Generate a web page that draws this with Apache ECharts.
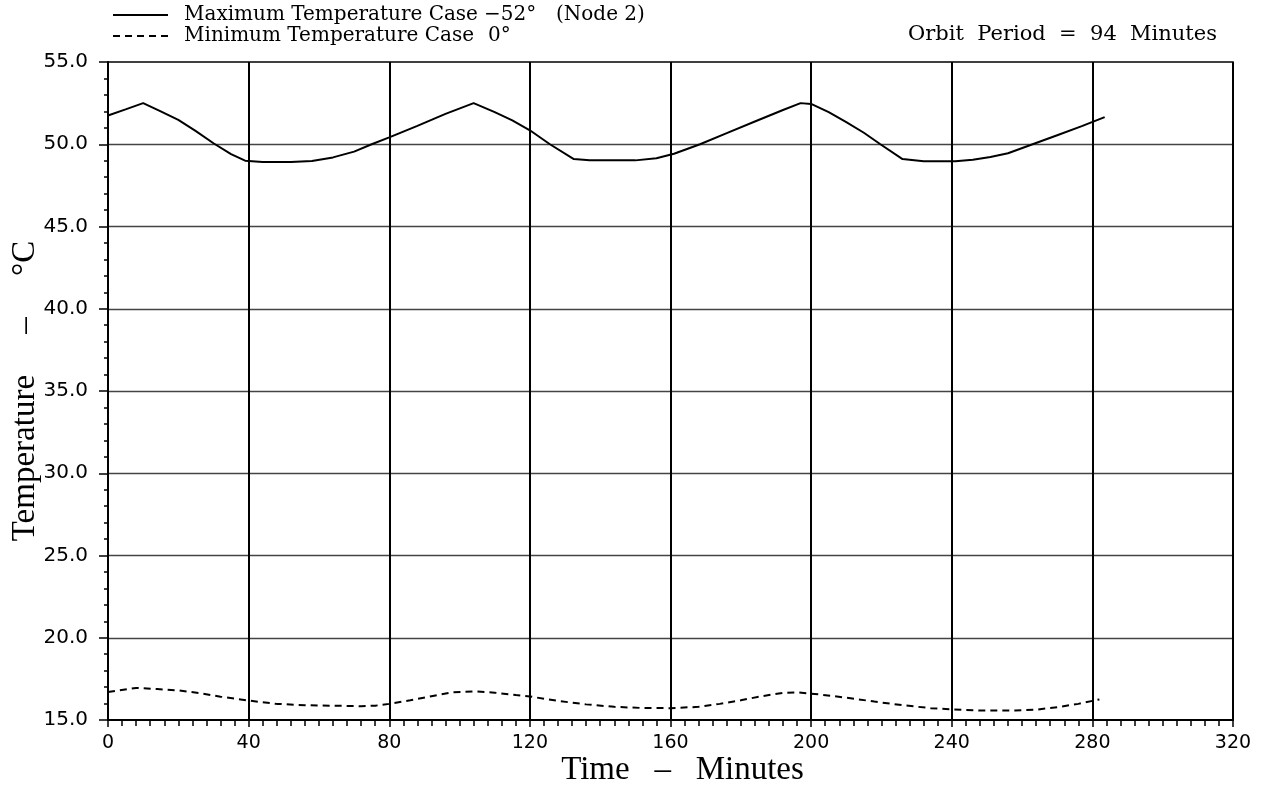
<!DOCTYPE html>
<html>
<head>
<meta charset="utf-8">
<script src="https://cdn.jsdelivr.net/npm/echarts@6/dist/echarts.min.js"></script>
<style>
  html, body { margin: 0; padding: 0; background: #fff; }
  #chart { width: 1261px; height: 788px; }
</style>
</head>
<body>
<div id="chart"></div>
<script>
// Orbit temperature history: two thermal cases over three orbits (94 min period)
const maxCaseName = 'Maximum Temperature Case';
const minCaseName = 'Minimum Temperature Case';

const maxTime = [0, 5, 10, 15, 20, 25, 30, 35, 39, 44, 52, 58, 64, 70, 75, 80, 88, 96, 104, 110, 115, 120,
  125.7, 132.5, 137, 150, 156, 161, 168.4, 176, 184, 192, 197, 200, 205, 210, 215, 219.7, 226, 232, 241,
  246, 251, 256, 263, 270, 277, 283.5];
const maxTemp = [51.75, 52.12, 52.5, 52.0, 51.48, 50.8, 50.06, 49.4, 49.0, 48.92, 48.92, 48.98, 49.2, 49.55,
  50.0, 50.42, 51.12, 51.85, 52.5, 51.95, 51.45, 50.85, 50.0, 49.1, 49.02, 49.02, 49.15, 49.42, 50.0, 50.68,
  51.38, 52.08, 52.5, 52.45, 51.95, 51.35, 50.7, 50.0, 49.1, 48.97, 48.97, 49.06, 49.23, 49.45, 50.0, 50.55,
  51.1, 51.65];

const minTime = [0, 8, 14, 20, 26, 32, 40, 48, 56, 64, 72, 76, 80, 86, 92, 98, 104, 110, 116, 120, 128, 136,
  144, 152, 160, 168, 174, 180, 186, 192, 196, 202, 210, 218, 226, 234, 240, 248, 258, 264, 270, 276, 282];
const minTemp = [16.7, 16.95, 16.88, 16.8, 16.64, 16.42, 16.18, 15.98, 15.9, 15.87, 15.84, 15.87, 15.98, 16.2,
  16.45, 16.68, 16.74, 16.66, 16.52, 16.43, 16.16, 15.95, 15.8, 15.73, 15.72, 15.8, 15.98, 16.2, 16.45, 16.65,
  16.68, 16.56, 16.36, 16.12, 15.9, 15.72, 15.65, 15.58, 15.57, 15.63, 15.78, 15.98, 16.25];

const xTicks = { min: 0, max: 320, step: 40 };
const yTicks = { min: 15, max: 55, step: 5 };

const zip = (xs, ys) => xs.map((x, i) => [x, ys[i]]);

const serif = 'Liberation Serif';
const legendFont = 'DejaVu Serif';

const chart = echarts.init(document.getElementById('chart'), null, { renderer: 'canvas' });

chart.setOption({
  backgroundColor: '#fff',
  animation: false,
  title: {
    text: 'Orbit  Period  =  94  Minutes',
    right: 44,
    top: 24,
    padding: 0,
    textStyle: { fontFamily: legendFont, fontSize: 21, fontWeight: 'normal', color: '#000' }
  },
  legend: {
    orient: 'vertical',
    left: 112,
    top: 5,
    padding: 0,
    itemGap: 1,
    itemWidth: 55,
    itemHeight: 14,
    itemStyle: { opacity: 0 },
    data: [maxCaseName, minCaseName],
    formatter: function (name) {
      if (name === maxCaseName) {
        return '{g| }{a|Maximum Temperature Case}{b|−52°}{c|(Node 2)}';
      }
      return '{g| }{a|Minimum Temperature Case}{d|0°}';
    },
    textStyle: {
      color: '#000',
      fontFamily: legendFont,
      fontSize: 20,
      lineHeight: 20,
      rich: {
        g: { width: 11 },
        a: { width: 300, fontFamily: legendFont, fontSize: 20, color: '#000' },
        b: { width: 72, fontFamily: legendFont, fontSize: 20, color: '#000' },
        c: { fontFamily: legendFont, fontSize: 20, color: '#000' },
        d: { padding: [0, 0, 0, 4], fontFamily: legendFont, fontSize: 20, color: '#000' }
      }
    }
  },
  grid: {
    left: 108,
    right: 28,
    top: 62,
    bottom: 68,
    outerBoundsMode: 'none',
    show: true,
    borderColor: '#000',
    borderWidth: 1.5,
    backgroundColor: 'transparent'
  },
  xAxis: {
    type: 'value',
    min: xTicks.min,
    max: xTicks.max,
    interval: xTicks.step,
    name: 'Time   –   Minutes',
    nameLocation: 'middle',
    nameMoveOverlap: false,
    nameGap: 34,
    nameTextStyle: { fontFamily: serif, fontSize: 33, color: '#000', padding: [0, 0, 0, 24] },
    axisLine: { show: true, onZero: false, lineStyle: { color: '#000', width: 2 } },
    axisTick: { show: true, inside: false, length: 7, lineStyle: { color: '#000', width: 1.5 } },
    minorTick: { show: true, splitNumber: 10, length: 6, lineStyle: { color: '#000', width: 1.5 } },
    axisLabel: {
      margin: 14,
      fontFamily: 'DejaVu Sans',
      fontSize: 19,
      color: '#000',
      showMinLabel: true,
      showMaxLabel: true
    },
    splitLine: {
      show: true,
      showMinLine: false,
      showMaxLine: true,
      lineStyle: { color: '#000', width: 2 }
    }
  },
  yAxis: {
    type: 'value',
    min: yTicks.min,
    max: yTicks.max,
    interval: yTicks.step,
    name: 'Temperature     –     °C',
    nameLocation: 'middle',
    nameMoveOverlap: false,
    nameGap: 66,
    nameTextStyle: { fontFamily: serif, fontSize: 33, color: '#000' },
    axisLine: { show: true, onZero: false, lineStyle: { color: '#000', width: 2 } },
    axisTick: { show: true, inside: false, length: 9, lineStyle: { color: '#000', width: 1.5 } },
    minorTick: { show: true, splitNumber: 5, length: 4, lineStyle: { color: '#000', width: 1.5 } },
    axisLabel: {
      margin: 20,
      fontFamily: 'DejaVu Sans',
      fontSize: 20,
      color: '#000',
      formatter: v => v.toFixed(1)
    },
    splitLine: {
      show: true,
      showMinLine: false,
      showMaxLine: false,
      lineStyle: { color: '#444', width: 1.3 }
    }
  },
  series: [
    {
      name: maxCaseName,
      type: 'line',
      data: zip(maxTime, maxTemp),
      symbol: 'none',
      smooth: false,
      lineStyle: { color: '#000', width: 2, type: 'solid' },
      itemStyle: { color: '#000' },
      z: 5
    },
    {
      name: minCaseName,
      type: 'line',
      data: zip(minTime, minTemp),
      symbol: 'none',
      smooth: false,
      lineStyle: { color: '#000', width: 2, type: [7, 5] },
      itemStyle: { color: '#000' },
      z: 5
    }
  ]
});
</script>
</body>
</html>
